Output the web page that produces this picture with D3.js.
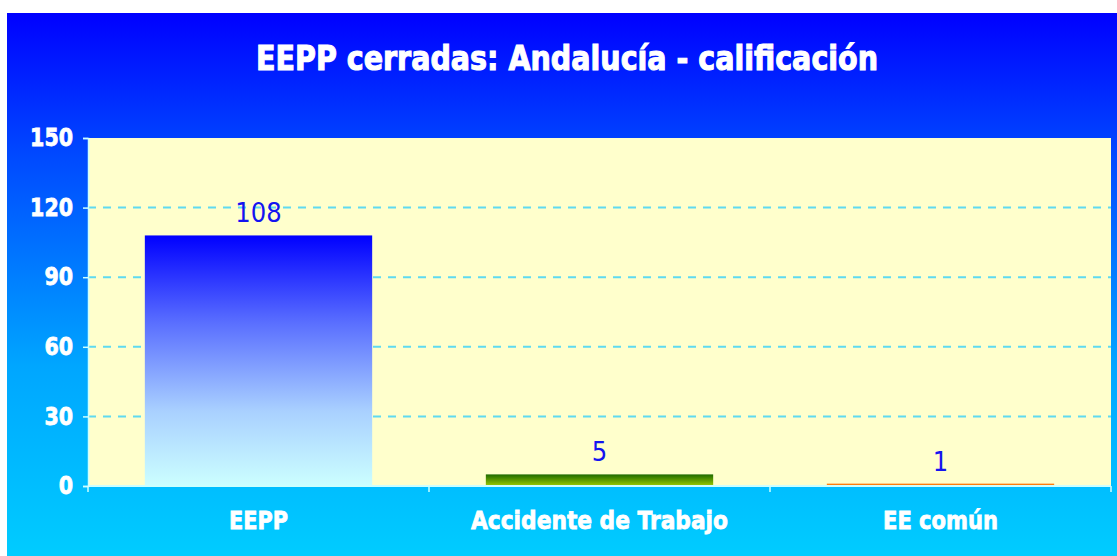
<!DOCTYPE html>
<html>
<head>
<meta charset="utf-8">
<script src="https://cdn.jsdelivr.net/npm/d3@7"></script>
<style>
  html, body { margin: 0; padding: 0; background: #ffffff; }
  svg { display: block; }
</style>
</head>
<body>
<svg id="chart" width="1117" height="556"></svg>
<script>
// Expedientes de enfermedad profesional cerrados en Andalucía, por calificación
const categories = ["EEPP", "Accidente de Trabajo", "EE común"];
const values = [108, 5, 1];
const yTicks = [0, 30, 60, 90, 120, 150];
const titleText = "EEPP cerradas: Andalucía - calificación";

const W = 1117, H = 556;
const frame = { left: 7, top: 13 };
const plot = { left: 88, right: 1111, top: 138, bottom: 486 };
const boldFont = "'DejaVu Sans', Verdana, sans-serif";
const labelFont = "'DejaVu Sans Condensed', 'DejaVu Sans', sans-serif";

const svg = d3.select("#chart");
const defs = svg.append("defs");

// background gradient of the chart frame
const bg = defs.append("linearGradient").attr("id", "bgGrad")
  .attr("x1", 0).attr("y1", 0).attr("x2", 0).attr("y2", 1);
bg.append("stop").attr("offset", "0%").attr("stop-color", "#0000ff");
bg.append("stop").attr("offset", "25%").attr("stop-color", "#0046ff");
bg.append("stop").attr("offset", "65%").attr("stop-color", "#00a6ff");
bg.append("stop").attr("offset", "100%").attr("stop-color", "#00ccff");

// per-bar fills
const barGrads = [
  [["0%", "#0000ff"], ["35%", "#5a6fff"], ["70%", "#a9d0ff"], ["100%", "#ccffff"]],
  [["0%", "#1d6a00"], ["100%", "#9ccc00"]],
  [["0%", "#ff6a00"], ["100%", "#ffa020"]]
];
barGrads.forEach((stops, i) => {
  const g = defs.append("linearGradient").attr("id", "barGrad" + i)
    .attr("x1", 0).attr("y1", 0).attr("x2", 0).attr("y2", 1);
  stops.forEach(s => g.append("stop").attr("offset", s[0]).attr("stop-color", s[1]));
});

svg.append("rect")
  .attr("x", frame.left).attr("y", frame.top)
  .attr("width", W - frame.left).attr("height", H - frame.top)
  .attr("fill", "url(#bgGrad)");

// title
svg.append("text")
  .attr("x", 567).attr("y", 70)
  .attr("text-anchor", "middle")
  .attr("font-family", boldFont)
  .attr("font-weight", "bold")
  .attr("font-size", 33)
  .attr("fill", "#ffffff")
  .attr("stroke", "#ffffff")
  .attr("stroke-width", 1.1)
  .attr("textLength", 622)
  .attr("lengthAdjust", "spacingAndGlyphs")
  .text(titleText);

// scales
const x = d3.scaleBand().domain(categories)
  .range([plot.left, plot.right]).paddingInner(1 / 3).paddingOuter(1 / 6);
const y = d3.scaleLinear().domain([0, 150]).range([plot.bottom, plot.top]);

// plot area
svg.append("rect")
  .attr("x", plot.left).attr("y", plot.top)
  .attr("width", plot.right - plot.left).attr("height", plot.bottom - plot.top)
  .attr("fill", "#ffffcc");

// dashed gridlines
svg.append("g")
  .selectAll("line")
  .data(yTicks.filter(t => t > 0 && t < 150))
  .join("line")
  .attr("x1", plot.left).attr("x2", plot.right)
  .attr("y1", d => y(d)).attr("y2", d => y(d))
  .attr("stroke", "#5fdaf0")
  .attr("stroke-width", 2)
  .attr("stroke-dasharray", "8,7");

// bars
svg.append("g")
  .selectAll("rect")
  .data(values)
  .join("rect")
  .attr("x", (d, i) => x(categories[i]))
  .attr("width", x.bandwidth())
  .attr("y", d => y(d))
  .attr("height", d => y(0) - y(d))
  .attr("fill", (d, i) => "url(#barGrad" + i + ")");

// value labels
svg.append("g")
  .selectAll("text")
  .data(values)
  .join("text")
  .attr("x", (d, i) => x(categories[i]) + x.bandwidth() / 2)
  .attr("y", d => y(d) - 13)
  .attr("text-anchor", "middle")
  .attr("font-family", labelFont)
  .attr("font-size", 27)
  .attr("fill", "#1414f0")
  .text(d => d);

// y axis
const yAxis = svg.append("g")
  .attr("transform", `translate(${plot.left},0)`)
  .call(d3.axisLeft(y).tickValues(yTicks).tickSize(5).tickPadding(10));
yAxis.select(".domain").attr("stroke", "#ccffff").attr("stroke-width", 1.5);
yAxis.selectAll(".tick line").attr("stroke", "#ccffff").attr("stroke-width", 1.5);
yAxis.selectAll(".tick text")
  .attr("fill", "#ffffff")
  .attr("stroke", "#ffffff")
  .attr("stroke-width", 0.8)
  .attr("font-family", boldFont)
  .attr("font-weight", "bold")
  .attr("font-size", 24)
  .attr("textLength", d => String(d).length * 14.3)
  .attr("lengthAdjust", "spacingAndGlyphs");

// x axis with ticks between categories
const boundaries = [plot.left, ...categories.map(c => x(c) + x.bandwidth() + x.step() * x.paddingInner() / 2)];
const xAxis = svg.append("g").attr("transform", `translate(0,${plot.bottom})`);
xAxis.append("line")
  .attr("x1", plot.left).attr("x2", plot.right)
  .attr("y1", 0).attr("y2", 0)
  .attr("stroke", "#ccffff").attr("stroke-width", 2);
xAxis.selectAll("line.tk")
  .data(boundaries)
  .join("line").attr("class", "tk")
  .attr("x1", d => d).attr("x2", d => d)
  .attr("y1", 0).attr("y2", 6)
  .attr("stroke", "#ccffff").attr("stroke-width", 1.5);

const catWidths = [59, 257, 115];
xAxis.selectAll("text")
  .data(categories)
  .join("text")
  .attr("x", d => x(d) + x.bandwidth() / 2)
  .attr("y", 43)
  .attr("text-anchor", "middle")
  .attr("font-family", boldFont)
  .attr("font-weight", "bold")
  .attr("font-size", 25)
  .attr("fill", "#ffffff")
  .attr("stroke", "#ffffff")
  .attr("stroke-width", 0.8)
  .attr("textLength", (d, i) => catWidths[i])
  .attr("lengthAdjust", "spacingAndGlyphs")
  .text(d => d);
</script>
</body>
</html>
